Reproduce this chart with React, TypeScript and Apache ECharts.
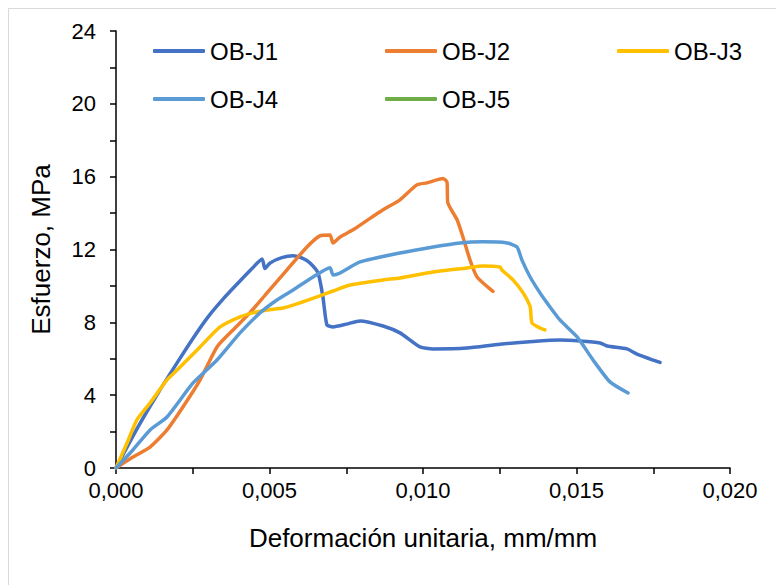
import React, { useEffect, useRef } from "react";
import * as echarts from "echarts";

const seriesNames = ["OB-J1", "OB-J2", "OB-J3", "OB-J4", "OB-J5"];
const seriesColors = ["#4472C4", "#ED7D31", "#FFC000", "#5B9BD5", "#70AD47"];

const obJ1: number[][] = [
  [0, 0], [0.0007, 2.2], [0.0014, 4.2], [0.002, 5.8], [0.0025, 7.1], [0.003, 8.3],
  [0.0035, 9.3], [0.004, 10.2], [0.0044, 10.9],
  [0.00476, 11.48], [0.00485, 10.95], [0.00502, 11.26], [0.0054, 11.55], [0.00577, 11.65],
  [0.0061, 11.5], [0.00632, 11.26], [0.00658, 10.71], [0.00674, 9.4], [0.00687, 7.86],
  [0.00707, 7.75], [0.0075, 7.9], [0.00795, 8.08], [0.0087, 7.8], [0.00925, 7.42],
  [0.0099, 6.65], [0.01033, 6.54], [0.01143, 6.59], [0.0125, 6.8], [0.01358, 6.95],
  [0.01446, 7.03], [0.01511, 6.98], [0.01577, 6.87], [0.016, 6.7], [0.01664, 6.54],
  [0.01697, 6.26], [0.01772, 5.8],
];
const obJ2: number[][] = [
  [0, 0], [0.00055, 0.6], [0.00111, 1.15], [0.00166, 2.09], [0.00218, 3.35], [0.00274, 4.84],
  [0.00329, 6.65], [0.00381, 7.58], [0.00436, 8.52], [0.00492, 9.62], [0.00557, 10.88],
  [0.00622, 12.14], [0.00664, 12.75], [0.00697, 12.8], [0.00707, 12.36], [0.0073, 12.69],
  [0.00772, 13.08], [0.00818, 13.6], [0.0087, 14.18], [0.00925, 14.73], [0.0098, 15.55],
  [0.01013, 15.66], [0.01065, 15.9], [0.01078, 15.71], [0.01081, 14.56], [0.01111, 13.63],
  [0.0113, 12.69], [0.01153, 11.43], [0.01176, 10.49], [0.01228, 9.7],
];
const obJ3: number[][] = [
  [0, 0], [0.00036, 1.37], [0.00068, 2.64], [0.00111, 3.57], [0.00166, 4.84], [0.00199, 5.38],
  [0.00274, 6.65], [0.00339, 7.75], [0.00404, 8.3], [0.00446, 8.52], [0.00492, 8.68],
  [0.00544, 8.79], [0.00599, 9.07], [0.00655, 9.4], [0.00707, 9.72], [0.00762, 10.05],
  [0.0087, 10.33], [0.00925, 10.44], [0.01033, 10.77], [0.01143, 10.99], [0.01195, 11.1],
  [0.01251, 11.04], [0.01257, 10.88], [0.01293, 10.33], [0.01326, 9.62], [0.01349, 8.85],
  [0.01355, 7.97], [0.01381, 7.69], [0.01397, 7.58],
];
const obJ4: number[][] = [
  [0, 0], [0.00055, 0.99], [0.00111, 2.09], [0.00166, 2.8], [0.00251, 4.67], [0.00329, 5.93],
  [0.00404, 7.42], [0.00469, 8.52], [0.00524, 9.23], [0.00577, 9.78], [0.00642, 10.49],
  [0.00697, 11.0], [0.00707, 10.6], [0.0073, 10.71], [0.00795, 11.32], [0.00925, 11.81],
  [0.01033, 12.14], [0.01121, 12.36], [0.01195, 12.42], [0.01274, 12.36], [0.01306, 12.14],
  [0.01322, 11.43], [0.01349, 10.49], [0.01381, 9.62], [0.01404, 9.07], [0.01446, 8.13],
  [0.01502, 7.2], [0.01554, 5.93], [0.01609, 4.73], [0.01668, 4.12],
];
const obJ5: number[][] = [];

const seriesData = [obJ1, obJ2, obJ3, obJ4, obJ5];

const xTitle = "Deformación unitaria, mm/mm";
const yTitle = "Esfuerzo, MPa";

const FONT = "'Liberation Sans', Arial, sans-serif";

export default function App() {
  const ref = useRef<HTMLDivElement>(null);
  useEffect(() => {
    if (!ref.current) return;
    const chart = echarts.init(ref.current, null, { renderer: "svg" });
    const legendPos = [
      [145, 31], [377, 31], [609, 31], [145, 79], [377, 79],
    ];
    const option: any = {
      animation: false,
      textStyle: { fontFamily: FONT },
      graphic: [
        {
          type: "rect",
          shape: { x: 0.5, y: 0.5, width: 900, height: 700 },
          style: { fill: "none", stroke: "#d9d9d9", lineWidth: 1 },
          silent: true,
        },
      ],
      legend: seriesNames.map((n, i) => ({
        data: [n],
        left: legendPos[i][0],
        top: legendPos[i][1],
        padding: 0,
        icon: "roundRect",
        itemWidth: 52,
        itemHeight: 4,
        itemGap: 6,
        selectedMode: false,
        textStyle: { fontSize: 24, color: "#000", fontFamily: FONT },
      })),
      grid: { left: 108, top: 23, right: 54, bottom: 117, containLabel: false },
      xAxis: {
        type: "value",
        min: 0,
        max: 0.02,
        interval: 0.0025,
        name: xTitle,
        nameLocation: "middle",
        nameGap: 57,
        nameTextStyle: { fontSize: 26, color: "#000", fontFamily: FONT },
        axisLine: { lineStyle: { color: "#000", width: 1.5 } },
        axisTick: { show: true, length: 6, inside: false, lineStyle: { color: "#000", width: 1.5 } },
        splitLine: { show: false },
        axisLabel: {
          fontSize: 22,
          color: "#000",
          margin: 11,
          fontFamily: FONT,
          formatter: (v: number) => {
            const k = Math.round(v / 0.0025);
            return k % 2 === 0 ? v.toFixed(3).replace(".", ",") : "";
          },
        },
      },
      yAxis: {
        type: "value",
        min: 0,
        max: 24,
        interval: 2,
        name: yTitle,
        nameLocation: "middle",
        nameGap: 62,
        nameRotate: 90,
        nameTextStyle: { fontSize: 26, color: "#000", fontFamily: FONT },
        axisLine: { show: true, lineStyle: { color: "#000", width: 1.5 } },
        axisTick: { show: true, length: 6, inside: false, lineStyle: { color: "#000", width: 1.5 } },
        splitLine: { show: false },
        axisLabel: {
          fontSize: 22,
          color: "#000",
          margin: 20,
          fontFamily: FONT,
          formatter: (v: number) => (Math.round(v) % 4 === 0 ? String(v) : ""),
        },
      },
      series: seriesNames.map((n, i) => ({
        name: n,
        type: "line",
        data: seriesData[i],
        symbol: "none",
        smooth: 0.2,
        lineStyle: { color: seriesColors[i], width: 3.5, cap: "round", join: "round" },
        itemStyle: { color: seriesColors[i] },
      })),
    };
    chart.setOption(option);
    return () => chart.dispose();
  }, []);
  return <div ref={ref} style={{ width: 776, height: 577 }} />;
}
